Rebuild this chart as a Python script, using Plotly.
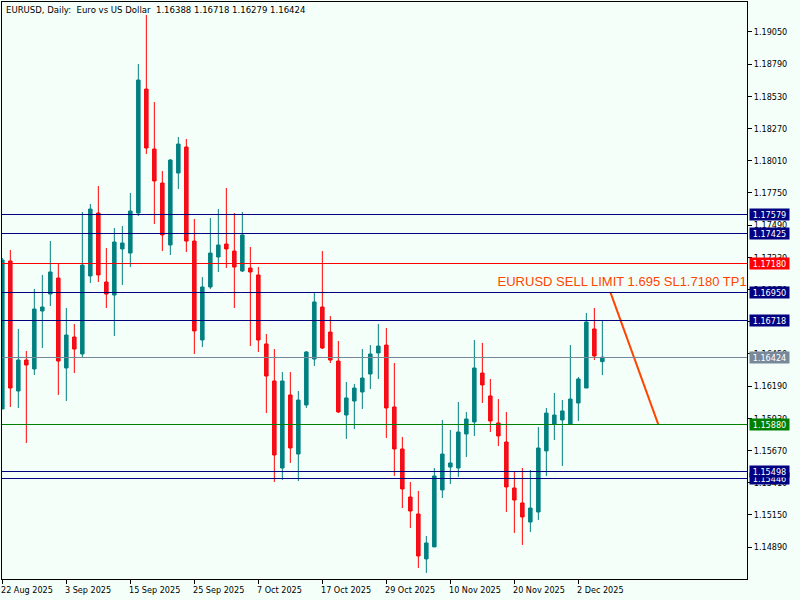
import plotly.graph_objects as go

# daily candles, 22 Aug 2025 to 5 Dec 2025 (weekdays only)
opens = [1.16006, 1.17201, 1.16151, 1.16401, 1.16329, 1.16797, 1.16934, 1.17063, 1.16337, 1.16587,
         1.16450, 1.17080, 1.17588, 1.17031, 1.16926, 1.17298, 1.17265, 1.17588, 1.18589, 1.18105,
         1.17830, 1.17330, 1.17911, 1.18121, 1.17362, 1.16563, 1.16991, 1.17233, 1.17338, 1.17281,
         1.17120, 1.17144, 1.17088, 1.16531, 1.16232, 1.15529, 1.16119, 1.15642, 1.16038, 1.16409,
         1.16829, 1.16627, 1.16393, 1.15957, 1.16070, 1.16143, 1.16288, 1.16458, 1.16522, 1.16022,
         1.15683, 1.15295, 1.15158, 1.14795, 1.14892, 1.15352, 1.15537, 1.15529, 1.15804, 1.15901,
         1.16296, 1.16111, 1.15893, 1.15739, 1.15368, 1.15247, 1.15093, 1.15174, 1.15667, 1.15885,
         1.15917, 1.15885, 1.16054, 1.16175, 1.16652, 1.16388]
highs = [1.17225, 1.17290, 1.16652, 1.16474, 1.16975, 1.17088, 1.17362, 1.17185, 1.16821, 1.16692,
         1.17596, 1.17661, 1.17806, 1.17306, 1.17467, 1.17483, 1.17750, 1.18791, 1.19187, 1.18484,
         1.17927, 1.18024, 1.18202, 1.18186, 1.17540, 1.17071, 1.17548, 1.17620, 1.17790, 1.17588,
         1.17596, 1.17314, 1.17152, 1.16611, 1.16490, 1.16304, 1.16304, 1.16151, 1.16474, 1.16950,
         1.17281, 1.16757, 1.16555, 1.16224, 1.16208, 1.16490, 1.16522, 1.16692, 1.16660, 1.16377,
         1.15780, 1.15416, 1.15344, 1.14980, 1.15529, 1.15917, 1.15836, 1.16062, 1.15982, 1.16563,
         1.16539, 1.16248, 1.16086, 1.15982, 1.15505, 1.15529, 1.15513, 1.15860, 1.16014, 1.16135,
         1.16078, 1.16522, 1.16264, 1.16781, 1.16821, 1.16718]
lows = [1.16006, 1.16022, 1.16014, 1.15731, 1.16280, 1.16498, 1.16837, 1.16119, 1.16070, 1.16296,
        1.16426, 1.17023, 1.17031, 1.16821, 1.16595, 1.17007, 1.17152, 1.17564, 1.18065, 1.17499,
        1.17281, 1.17249, 1.17782, 1.17273, 1.16450, 1.16506, 1.16975, 1.17112, 1.17144, 1.16821,
        1.17112, 1.16514, 1.16466, 1.15973, 1.15416, 1.15433, 1.15570, 1.15424, 1.16014, 1.16353,
        1.16490, 1.16377, 1.15973, 1.15764, 1.15844, 1.16006, 1.16167, 1.16248, 1.15772, 1.15465,
        1.15206, 1.15045, 1.14722, 1.14682, 1.14892, 1.15287, 1.15400, 1.15457, 1.15618, 1.15788,
        1.16054, 1.15820, 1.15707, 1.15174, 1.15005, 1.14908, 1.15013, 1.15110, 1.15465, 1.15755,
        1.15546, 1.15885, 1.15909, 1.16175, 1.16401, 1.16279]
closes = [1.17209, 1.16175, 1.16401, 1.16361, 1.16813, 1.16829, 1.17112, 1.16393, 1.16603, 1.16490,
          1.17168, 1.17620, 1.17088, 1.16934, 1.17354, 1.17346, 1.17604, 1.18662, 1.18113, 1.17847,
          1.17411, 1.18016, 1.18145, 1.17362, 1.16636, 1.16991, 1.17265, 1.17330, 1.17298, 1.17152,
          1.17411, 1.17112, 1.16563, 1.16272, 1.15634, 1.16232, 1.15691, 1.16078, 1.16466, 1.16870,
          1.16498, 1.16401, 1.15982, 1.16095, 1.16175, 1.16256, 1.16450, 1.16514, 1.16014, 1.15683,
          1.15360, 1.15182, 1.14819, 1.14924, 1.15465, 1.15642, 1.15570, 1.15820, 1.15925, 1.16337,
          1.16200, 1.15909, 1.15788, 1.15376, 1.15271, 1.15134, 1.15206, 1.15691, 1.15973, 1.15957,
          1.15990, 1.16086, 1.16248, 1.16708, 1.16434, 1.16424]

date_ticks = [0, 8, 16, 24, 32, 40, 48, 56, 64, 72]
date_labels = ["22 Aug 2025", "3 Sep 2025", "15 Sep 2025", "25 Sep 2025", "7 Oct 2025",
               "17 Oct 2025", "29 Oct 2025", "10 Nov 2025", "20 Nov 2025", "2 Dec 2025"]

# 1.15498 is painted over 1.15446 in the original, so keep this order
level_prices = [1.15446, 1.15498, 1.15880, 1.16424, 1.16718, 1.16950, 1.17180, 1.17425, 1.17579]
level_colors = ["#000080", "#000080", "#008000", "#778899", "#000080", "#000080", "#ff0000", "#000080", "#000080"]

trend_x = [76, 82]
trend_y = [1.16950, 1.15880]

price_min = 1.14633
price_max = 1.19292

BG = "#f5fffa"
FONT = "DejaVu Sans Condensed"

candles = go.Candlestick(
    x=list(range(len(opens))), open=opens, high=highs, low=lows, close=closes,
    increasing=dict(line=dict(color="#008080", width=1), fillcolor="#008080"),
    decreasing=dict(line=dict(color="#ff0000", width=1), fillcolor="#ee1128"),
    whiskerwidth=0, showlegend=False, hoverinfo="skip",
)
trend = go.Scatter(x=trend_x, y=trend_y, mode="lines", line=dict(color="#ff4500", width=2),
                   showlegend=False, hoverinfo="skip")
sell_text = go.Scatter(x=[61.9], y=[1.17023], mode="text", text=["EURUSD SELL LIMIT 1.695 SL1.7180 TP1.58800"],
                       textposition="middle right", textfont=dict(family="Liberation Sans", size=13, color="#ff4500"),
                       cliponaxis=True, showlegend=False, hoverinfo="skip")

fig = go.Figure([candles, trend, sell_text])

for price, color in zip(level_prices, level_colors):
    fig.add_shape(type="line", xref="paper", x0=0, x1=1, y0=price, y1=price, line=dict(color=color, width=1), layer="above")
    fig.add_annotation(xref="paper", x=1, y=price, xanchor="left", xshift=2, text="%.5f" % price, showarrow=False,
                       bgcolor=color, width=39, height=11, borderpad=0, font=dict(family=FONT, size=9, color="white"))

for tick, label in zip(date_ticks, date_labels):
    fig.add_annotation(x=tick, yref="paper", y=0, yanchor="top", xanchor="left", xshift=-2, yshift=-5, text=label,
                       showarrow=False, borderpad=0, font=dict(family=FONT, size=9, color="black"))

fig.add_annotation(xref="paper", yref="paper", x=0, y=1, xanchor="left", yanchor="top", xshift=3, yshift=-1,
                   text="EURUSD, Daily:  Euro vs US Dollar  1.16388 1.16718 1.16279 1.16424".replace("  ", "&nbsp;&nbsp;"),
                   showarrow=False, borderpad=0, font=dict(family=FONT, size=9.5, color="black"))

fig.update_layout(
    width=800, height=600, margin=dict(l=2, r=53, t=2, b=21, autoexpand=False),
    paper_bgcolor=BG, plot_bgcolor=BG, boxgap=0.375,
    font=dict(family=FONT, size=9, color="black"),
)
fig.update_xaxes(range=[-0.04, 93.08], tickmode="array", tickvals=date_ticks, showticklabels=False,
                 ticks="outside", ticklen=4, tickcolor="black", tickwidth=1, showgrid=False, zeroline=False,
                 showline=True, linecolor="black", linewidth=1, mirror=True, rangeslider=dict(visible=False))
fig.update_yaxes(range=[price_min, price_max], side="right", tick0=1.1489, dtick=0.0026, tickformat=".5f",
                 ticks="outside", ticklen=4, tickcolor="black", tickwidth=1, showgrid=False, zeroline=False,
                 showline=True, linecolor="black", linewidth=1, mirror=True)

# page margin would push the chart off the 800x600 window; level lines should be hard 1px
page_js = """document.body.style.margin='0';
document.documentElement.style.background='%s';
document.querySelectorAll('.shapelayer path').forEach(function(p){p.style.shapeRendering='crispEdges';});
""" % BG
fig.write_html("out.html", config=dict(displayModeBar=False), post_script=page_js)
